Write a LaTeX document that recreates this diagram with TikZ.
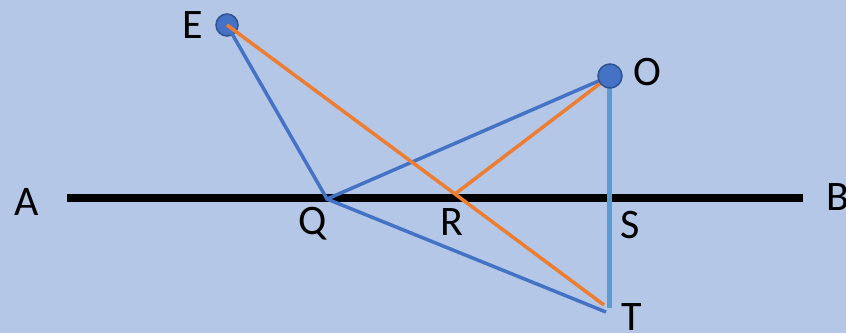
\documentclass[tikz,border=0pt]{standalone}
\usepackage{fontspec}
\setmainfont{Carlito}
\usepackage{xcolor}
\usepackage{tikz}
\usetikzlibrary{positioning}
\definecolor{slideblue}{RGB}{180, 199, 231}
\definecolor{rayblue}{RGB}{68, 114, 196}
\definecolor{rayorange}{RGB}{237, 125, 49}
\definecolor{normalblue}{RGB}{91, 155, 213}
\definecolor{dotrim}{RGB}{47, 82, 143}

\begin{document}
\begin{tikzpicture}[x=1pt, y=-1pt,
    lbl/.style={font=\fontsize{42}{50}\selectfont, anchor=base, inner sep=0pt},
    pnt/.style={circle, fill=rayblue, draw=dotrim, line width=1.5pt, minimum size=22pt, inner sep=0pt},
    blueray/.style={rayblue, line width=3.5pt},
    orangeray/.style={rayorange, line width=3.5pt}]
  \fill[slideblue] (0,0) rectangle (846,333);
  \useasboundingbox (0,0) rectangle (846,333);

  % mirror line
  \coordinate (A) at (67,198);
  \coordinate (B) at (803,198);
  \draw[line width=8pt] (A) -- (B);

  \coordinate (Q) at (327,199);
  \coordinate (R) at (455,194);
  \coordinate (S) at (609,198);
  \coordinate (T) at (609,308);
  \coordinate (Tb) at (606,312);
  \coordinate (To) at (604,305);

  \node[pnt] (E) at (227,25) {};

  \draw[normalblue, line width=5pt] (609,76) -- (S) -- (T);
  \draw[blueray] (E.center) -- (Q) -- (610,76);
  \draw[blueray] (Q) -- (Tb);
  \draw[orangeray] (E.center) -- (R) -- (To);
  \draw[orangeray] (R) -- (610,76);

  \node[pnt, minimum size=24pt] (O) at (610,76) {};

  \node[lbl] (lA) at (27,215) {A};
  \node[lbl] (lB) at (838,210) {B};
  \node[lbl] (lE) at (193,38) {E};
  \node[lbl] (lO) at (647,85) {O};
  \node[lbl] (lQ) at (313,234) {Q};
  \node[lbl] (lR) at (452,235) {R};
  \node[lbl] (lS) at (630,238) {S};
  \node[lbl] (lT) at (632,330) {T};
\end{tikzpicture}
\end{document}
